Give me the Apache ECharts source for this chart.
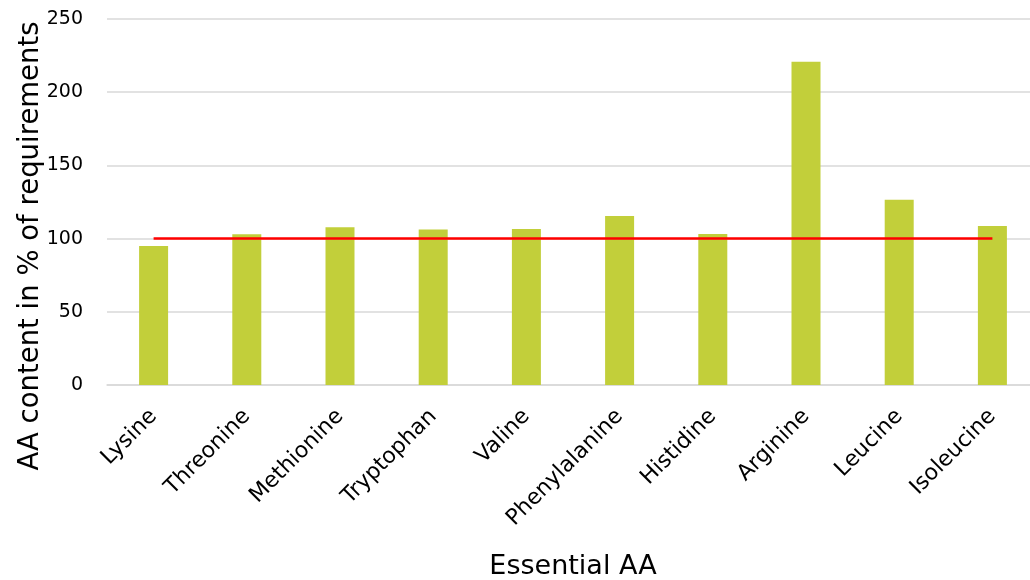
<!DOCTYPE html>
<html>
<head>
<meta charset="utf-8">
<script src="https://cdn.jsdelivr.net/npm/echarts@6/dist/echarts.min.js"></script>
<style>
  html, body { margin: 0; padding: 0; background: #fff; overflow: hidden; }
  #chart { width: 1030px; height: 580px; }
</style>
</head>
<body>
<div id="chart"></div>
<script>
// Essential amino acids and their content as % of requirements
const categories = ['Lysine', 'Threonine', 'Methionine', 'Tryptophan', 'Valine',
  'Phenylalanine', 'Histidine', 'Arginine', 'Leucine', 'Isoleucine'];
const contentPct = [95, 103, 107.7, 106.3, 106.6, 115.4, 103.1, 220.8, 126.6, 108.6];
const requirementPct = [100, 100, 100, 100, 100, 100, 100, 100, 100, 100];
const yTicks = { min: 0, max: 250, interval: 50 };

const FONT = 'DejaVu Sans, Verdana, sans-serif';

const chart = echarts.init(document.getElementById('chart'), null, { renderer: 'canvas' });
chart.setOption({
  animation: false,
  backgroundColor: '#ffffff',
  // plot area runs past the right edge, so the last gridlines are clipped
  grid: { left: 107, top: 19, width: 932, height: 366, containLabel: false, outerBoundsMode: 'none' },
  xAxis: {
    type: 'category',
    data: categories,
    boundaryGap: true,
    axisLine: { show: true, lineStyle: { color: '#d9d9d9', width: 1.5 } },
    axisTick: { show: false },
    axisLabel: {
      rotate: 45, interval: 0, margin: 28,
      fontFamily: FONT, fontSize: 22, color: '#000'
    },
    name: 'Essential AA',
    nameLocation: 'middle',
    nameGap: 168,
    nameTextStyle: { fontFamily: FONT, fontSize: 27, color: '#000' }
  },
  yAxis: {
    type: 'value',
    min: yTicks.min, max: yTicks.max, interval: yTicks.interval,
    axisLine: { show: false },
    axisTick: { show: false },
    splitLine: { lineStyle: { color: '#d9d9d9', width: 1.5 } },
    axisLabel: { fontFamily: FONT, fontSize: 19, color: '#000', margin: 24 }
  },
  graphic: [{
    type: 'text',
    x: 31, y: 246,
    rotation: Math.PI / 2,
    style: {
      text: 'AA content in % of requirements',
      fontFamily: FONT, fontSize: 27.5, fill: '#000',
      textAlign: 'center', textVerticalAlign: 'middle'
    }
  }],
  series: [
    {
      type: 'bar',
      data: contentPct,
      barWidth: 29,
      itemStyle: { color: '#c2cf3a' },
      z: 2
    },
    {
      type: 'line',
      data: requirementPct,
      symbol: 'none',
      lineStyle: { color: '#ff0000', width: 2.5 },
      z: 3
    }
  ]
});
</script>
</body>
</html>
